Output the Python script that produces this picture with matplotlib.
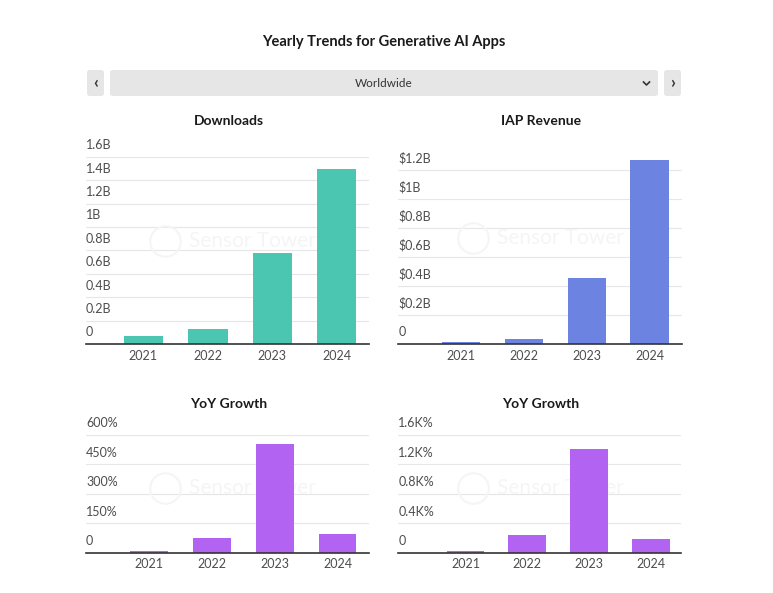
import matplotlib
matplotlib.use('Agg')
import matplotlib.pyplot as plt
from matplotlib.patches import FancyBboxPatch

plt.rcParams['font.family'] = ['Lato', 'DejaVu Sans']

years = ['2021', '2022', '2023', '2024']
downloads = [0.068, 0.126, 0.78, 1.496]          # billions
iap_revenue = [0.012, 0.035, 0.456, 1.269]       # billions USD
yoy_downloads = [8, 76, 554, 93]                 # percent
yoy_revenue = [18, 245, 1414, 181]               # percent

dl_ticks = [0, 0.2, 0.4, 0.6, 0.8, 1.0, 1.2, 1.4, 1.6]
dl_labels = ['0', '0.2B', '0.4B', '0.6B', '0.8B', '1B', '1.2B', '1.4B', '1.6B']
rev_ticks = [0, 0.2, 0.4, 0.6, 0.8, 1.0, 1.2]
rev_labels = ['0', '$0.2B', '$0.4B', '$0.6B', '$0.8B', '$1B', '$1.2B']
yoy_dl_ticks = [0, 150, 300, 450, 600]
yoy_dl_labels = ['0', '150%', '300%', '450%', '600%']
yoy_rev_ticks = [0, 400, 800, 1200, 1600]
yoy_rev_labels = ['0', '0.4K%', '0.8K%', '1.2K%', '1.6K%']

W, H = 773, 593
fig = plt.figure(figsize=(W / 100, H / 100), dpi=100)
fig.patch.set_facecolor('white')


def px_axes(x0, x1, ytop, ybot):
    return fig.add_axes([x0 / W, 1 - ybot / H, (x1 - x0) / W, (ybot - ytop) / H])


def draw_panel(ax, values, color, ticks, labels, ylim, xlim, width, wm_x):
    xs = range(len(years))
    ax.set_xlim(*xlim)
    ax.set_ylim(*ylim)
    for t in ticks[1:]:
        ax.axhline(t, color='#e6e6e6', lw=0.8, zorder=0)
    ax.axhline(0, color='#333333', lw=1.2, zorder=3, clip_on=False)
    ax.bar(xs, values, width=width, color=color, zorder=2)
    for t, lab in zip(ticks, labels):
        ax.annotate(lab, (0, t), xycoords=ax.get_yaxis_transform(),
                    xytext=(0, 4), textcoords='offset points',
                    ha='left', va='bottom', fontsize=9, color='#4d4d4d')
    ax.set_xticks(list(xs))
    ax.set_xticklabels(years, fontsize=9, color='#4d4d4d')
    ax.tick_params(axis='x', length=0, pad=4)
    ax.set_yticks([])
    for s in ax.spines.values():
        s.set_visible(False)
    # faint watermark
    ax.plot([wm_x], [0.55], transform=ax.transAxes, marker='o', ms=22,
            mfc='none', mec='#f5f5f5', mew=1.5, zorder=0)
    ax.text(wm_x + 0.085, 0.55, 'Sensor Tower', transform=ax.transAxes,
            ha='left', va='center', fontsize=15, color='#f5f5f5', zorder=0)


ax1 = px_axes(86, 369, 156.7, 344)
draw_panel(ax1, downloads, '#4bc6b1', dl_ticks, dl_labels,
           (0, 1.6), (-0.89, 3.5), 0.61, 0.28)
ax2 = px_axes(398.3, 681.7, 151.5, 344)
draw_panel(ax2, iap_revenue, '#6c83e2', rev_ticks, rev_labels,
           (0, 1.33), (-1.0, 3.51), 0.61, 0.265)
ax3 = px_axes(86, 369, 435, 552.7)
draw_panel(ax3, yoy_downloads, '#b263f2', yoy_dl_ticks, yoy_dl_labels,
           (0, 600), (-1.0, 3.5), 0.6, 0.28)
ax4 = px_axes(398.3, 681, 435, 552.7)
draw_panel(ax4, yoy_revenue, '#b263f2', yoy_rev_ticks, yoy_rev_labels,
           (0, 1600), (-1.09, 3.49), 0.61, 0.265)


# titles in pixel coordinates
def ftext(x, y, s, **kw):
    fig.text(x / W, 1 - y / H, s, ha='center', va='center', **kw)


ftext(384, 42, 'Yearly Trends for Generative AI Apps', fontsize=10.5,
      fontweight='bold', color='#1a1a1a')
ftext(229, 121, 'Downloads', fontsize=10, fontweight='bold', color='#1a1a1a')
ftext(541, 121, 'IAP Revenue', fontsize=10, fontweight='bold', color='#1a1a1a')
ftext(229, 404, 'YoY Growth', fontsize=10, fontweight='bold', color='#1a1a1a')
ftext(541, 404, 'YoY Growth', fontsize=10, fontweight='bold', color='#1a1a1a')

# region selector bar
for x0, x1 in [(87, 104), (110, 658), (664, 681)]:
    fig.patches.append(FancyBboxPatch((x0 / W, 1 - 96 / H), (x1 - x0) / W, 26 / H,
                                      boxstyle='round,pad=0,rounding_size=0.004',
                                      transform=fig.transFigure,
                                      facecolor='#e6e6e6', edgecolor='none'))
ftext(384, 83.5, 'Worldwide', fontsize=8.5, color='#333333')
ftext(95.5, 83, '‹', fontsize=12, fontweight='bold', color='#333333')
ftext(672.5, 83, '›', fontsize=12, fontweight='bold', color='#333333')
fig.lines.append(plt.Line2D([643.5 / W, 646.5 / W, 649.5 / W],
                            [1 - 82 / H, 1 - 85 / H, 1 - 82 / H],
                            transform=fig.transFigure, color='#333333', lw=1.2))

fig.savefig('out.png', dpi=100)
